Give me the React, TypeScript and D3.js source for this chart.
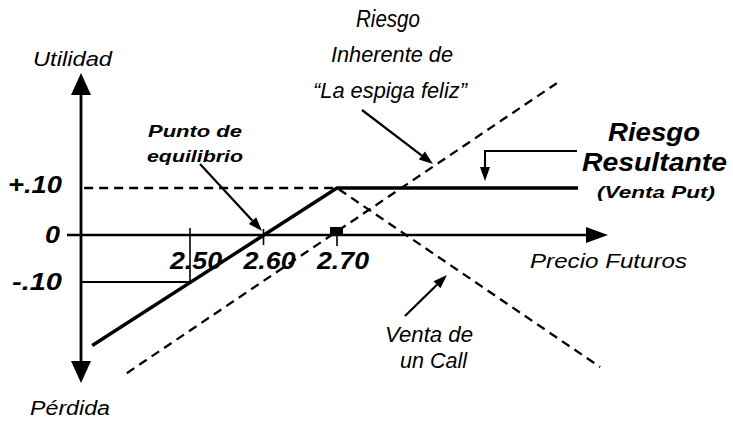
import React from "react";
import * as d3 from "d3";

const W = 733;
const H = 421;

// axis ticks
const xTickValues = [2.5, 2.6, 2.7];
const xTickLabels = ["2.50", "2.60", "2.70"];
const yTickValues = [0.1, 0, -0.1];
const yTickLabels = ["+.10", "0", "-.10"];

// Riesgo Resultante (Venta Put) - solid
const resultantPrice = [2.367, 2.7, 3.028];
const resultantValue = [-0.235, 0.1, 0.1];
// Riesgo Inherente (futuros largos) - dashed
const inherentPrice = [2.414, 2.999];
const inherentValue = [-0.294, 0.323];
// Venta de un Call - dashed
const callPrice = [2.356, 2.7, 3.058];
const callValue = [0.1, 0.1, -0.281];

const FONT = "'Liberation Sans', Arial, Helvetica, sans-serif";

function Arrow({ x1, y1, x2, y2, len = 14, w = 10, sw = 2.2 }: any) {
  const a = Math.atan2(y2 - y1, x2 - x1);
  const bx = x2 - len * Math.cos(a);
  const by = y2 - len * Math.sin(a);
  const px = (w / 2) * Math.cos(a + Math.PI / 2);
  const py = (w / 2) * Math.sin(a + Math.PI / 2);
  return (
    <g>
      <line x1={x1} y1={y1} x2={bx} y2={by} stroke="#000" strokeWidth={sw} />
      <polygon points={`${x2},${y2} ${bx + px},${by + py} ${bx - px},${by - py}`} fill="#000" />
    </g>
  );
}

function T({ x, y, children, size, w, bold, anchor = "start" }: any) {
  return (
    <text
      x={x}
      y={y}
      fontFamily={FONT}
      fontSize={size}
      fontStyle="italic"
      fontWeight={bold ? "bold" : "normal"}
      textAnchor={anchor}
      textLength={w}
      lengthAdjust="spacingAndGlyphs"
      fill="#000"
    >
      {children}
    </text>
  );
}

export default function App() {
  const x = d3.scaleLinear().domain([2.5, 2.7]).range([190, 337]);
  const y = d3.scaleLinear().domain([-0.1, 0.1]).range([282, 188]);
  const axisX = 81;
  const y0 = y(0);

  const line = d3
    .line<[number, number]>()
    .x((d) => x(d[0]))
    .y((d) => y(d[1]));

  const res = resultantPrice.map((p, i) => [p, resultantValue[i]] as [number, number]);
  const inh = inherentPrice.map((p, i) => [p, inherentValue[i]] as [number, number]);
  const call = callPrice.map((p, i) => [p, callValue[i]] as [number, number]);

  const yLabelX = [8, 45, 12];
  const yLabelW = [54, 15, 50];

  return (
    <svg width={W} height={H} style={{ position: "absolute", left: 0, top: 0, background: "#fff" }}>
      <rect x={0} y={0} width={W} height={H} fill="#fff" />
      {/* y axis */}
      <line x1={axisX} y1={92} x2={axisX} y2={364} stroke="#000" strokeWidth={2.8} />
      <polygon points={`${axisX},73 ${axisX - 10},95 ${axisX + 10},95`} fill="#000" />
      <polygon points={`${axisX},383 ${axisX - 10},361 ${axisX + 10},361`} fill="#000" />
      {/* x axis */}
      <line x1={67} y1={y0} x2={592} y2={y0} stroke="#000" strokeWidth={2.6} />
      <polygon points={`608,${y0} 586,${y0 - 8} 586,${y0 + 8}`} fill="#000" />

      {/* guide at -.10 and 2.50 */}
      <line x1={axisX} y1={y(-0.1)} x2={x(2.5)} y2={y(-0.1)} stroke="#000" strokeWidth={2} />
      <line x1={x(2.5)} y1={y(-0.1)} x2={x(2.5)} y2={y0 - 7} stroke="#000" strokeWidth={1.6} />
      {/* tick at 2.60 */}
      <line x1={x(2.6)} y1={y0 - 6} x2={x(2.6)} y2={y0 + 10} stroke="#000" strokeWidth={1.6} />
      {/* marker at 2.70 */}
      <rect x={x(2.7) - 7} y={y0 - 8} width={13} height={8} fill="#000" />
      <line x1={x(2.7)} y1={y0} x2={x(2.7)} y2={y0 + 11} stroke="#000" strokeWidth={1.6} />

      {/* dashed lines */}
      <path d={line(call) || ""} fill="none" stroke="#000" strokeWidth={2.3} strokeDasharray="9 6" />
      <path d={line(inh) || ""} fill="none" stroke="#000" strokeWidth={2.3} strokeDasharray="9 6" />
      {/* resultant */}
      <path d={line(res) || ""} fill="none" stroke="#000" strokeWidth={3.4} />

      {/* y tick labels */}
      {yTickValues.map((v, i) => (
        <T key={i} x={yLabelX[i]} y={y(v) + (i === 1 ? 8 : i === 0 ? 5 : 8)} size={24} w={yLabelW[i]} bold>
          {yTickLabels[i]}
        </T>
      ))}
      {/* x tick labels */}
      {xTickValues.map((v, i) => (
        <T key={i} x={x(v) + 6} y={y0 + 34} size={24} w={52} bold anchor="middle">
          {xTickLabels[i]}
        </T>
      ))}

      {/* labels */}
      <T x={33} y={66} size={20} w={79}>Utilidad</T>
      <T x={30} y={415} size={20} w={80}>Pérdida</T>
      <T x={530} y={268} size={21} w={157}>Precio Futuros</T>

      <T x={388} y={27} size={23} w={64} anchor="middle">Riesgo</T>
      <T x={392} y={62} size={22} w={122} anchor="middle">Inherente de</T>
      <T x={390} y={98} size={22} w={154} anchor="middle">“La espiga feliz”</T>
      <Arrow x1={362} y1={110} x2={433} y2={164} />

      <T x={608} y={141} size={26} w={92} bold>Riesgo</T>
      <T x={582} y={171} size={26} w={145} bold>Resultante</T>
      <T x={597} y={198} size={17} w={118} bold>(Venta Put)</T>
      <polyline points={`577,151 485,151 485,168`} fill="none" stroke="#000" strokeWidth={2} />
      <Arrow x1={485} y1={160} x2={485} y2={181} len={14} w={10} />

      <T x={148} y={137} size={17} w={94} bold>Punto de</T>
      <T x={147} y={162} size={17} w={96} bold>equilibrio</T>
      <Arrow x1={200} y1={164} x2={262} y2={231} />

      <T x={385} y={342} size={22} w={88}>Venta de</T>
      <T x={400} y={368} size={22} w={67}>un Call</T>
      <Arrow x1={405} y1={316} x2={447} y2={275} />
    </svg>
  );
}
